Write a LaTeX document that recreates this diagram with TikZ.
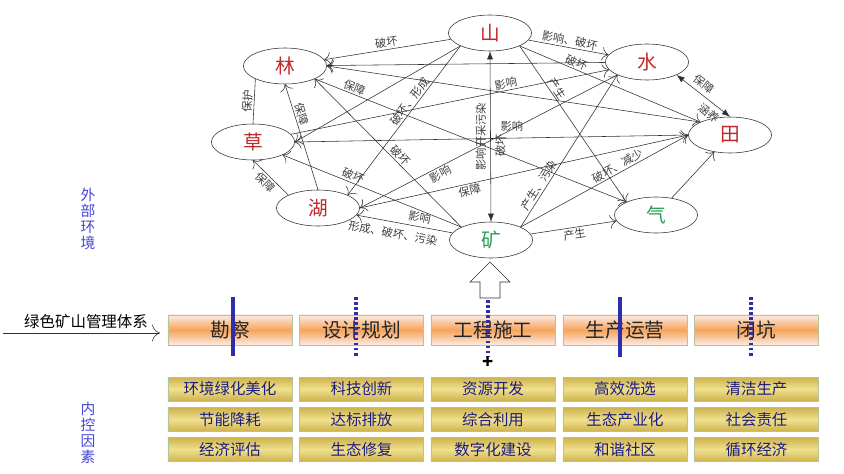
\documentclass[tikz,border=0pt]{standalone}
\usepackage{fontspec}
\setmainfont{Noto Sans CJK SC}
\usepackage{xcolor}
\usepackage{tikz}
\usetikzlibrary{arrows.meta, positioning, shapes.geometric}
\definecolor{gmred}{HTML}{C0282D}
\definecolor{gmgreen}{HTML}{27A055}
\definecolor{gmline}{HTML}{303030}
\definecolor{gmlabel}{HTML}{404040}
\definecolor{gmblue}{HTML}{2E2EA8}
\definecolor{gmside}{HTML}{4444D8}
\definecolor{gmnavy}{HTML}{1C1C80}
\definecolor{gmorange}{HTML}{F6A35C}
\definecolor{gmpink}{HTML}{FCEBE3}
\definecolor{gmgold}{HTML}{CDB24C}
\definecolor{gmgoldlight}{HTML}{F0E08E}
\definecolor{gmframe}{HTML}{B4C49A}

\begin{document}
\begin{tikzpicture}[x=0.025cm, y=-0.025cm,
  elem/.style={draw=gmline, ellipse, fill=white, minimum width=2.08cm, minimum height=0.9cm, inner sep=0pt, font=\fontsize{14pt}{14pt}\selectfont},
  lbl/.style={text=gmlabel, font=\fontsize{8pt}{8pt}\selectfont, inner sep=1pt},
  arr/.style={-{To[length=1.6mm]}, gmline, thin},
  arrs/.style={{Latex[length=2mm]}-{Latex[length=2mm]}, gmline, thin},
  stage/.style={draw=gmframe, top color=gmpink, bottom color=gmpink, middle color=gmorange, minimum width=3.1cm, minimum height=0.75cm, font=\fontsize{14pt}{14pt}\selectfont, text=black!85},
  ctrl/.style={draw=gmframe, top color=gmgold, bottom color=gmgold, middle color=gmgoldlight, minimum width=3.1cm, minimum height=0.6cm, font=\fontsize{11pt}{11pt}\selectfont, text=gmnavy},
  side/.style={text=gmside, align=center, font=\fontsize{10.5pt}{11.5pt}\selectfont},
  solidmark/.style={gmblue, line width=2.2pt},
  dotmark/.style={gmblue, line width=2.2pt, dash pattern=on 2pt off 1.6pt}
]
  \useasboundingbox (0,0) rectangle (844,474);

  \node[elem, text=gmred] (shan) at (490,33) {山};
  \node[elem, text=gmred] (shui) at (647,62) {水};
  \node[elem, text=gmred] (tian) at (730,135) {田};
  \node[elem, text=gmgreen] (qi) at (656,215) {气};
  \node[elem, text=gmgreen] (kuang) at (491,240) {矿};
  \node[elem, text=gmred] (hu) at (318,208) {湖};
  \node[elem, text=gmred] (cao) at (253,142) {草};
  \node[elem, text=gmred] (lin) at (285,66) {林};

  \draw[arr] (shan) -- node[lbl, sloped, above] {破坏} (lin);
  \draw[arr] (shan) -- node[lbl, sloped, above] {影响、破坏} (shui);
  \draw[arr] (shan.south east) -- node[lbl, sloped, above, pos=0.3] {破坏} (tian.north west);
  \draw[arr] (shan.south east) -- node[lbl, sloped, above, pos=0.3] {产生} (qi.north west);
  \draw[arr] (shan.south west) -- (cao.east);
  \draw[arr] (shan.south west) -- node[lbl, sloped, above, pos=0.4] {破坏、形成} (hu.north east);
  \draw[arrs] (kuang.north) -- node[lbl, rotate=90, anchor=south, pos=0.5, inner sep=3pt] {影响开采污染} node[lbl, rotate=90, anchor=north, pos=0.45, inner sep=3pt] {破坏} node[lbl, right=6pt, pos=0.56] {影响} (shan.south);
  \draw[arr] (shui) -- (lin);
  \draw[arrs] (shui.south east) -- node[lbl, sloped, above=2pt, pos=0.4] {保障} node[lbl, sloped, below=2pt, pos=0.72] {涵养} (tian.north);
  \draw[arr] (cao) -- node[lbl, sloped, above, pos=0.68] {影响} (shui);
  \draw[arr] (shui.south west) -- node[lbl, sloped, below, pos=0.7] {影响} (hu.east);
  \draw[arr] (hu.north) -- node[lbl, sloped, above, pos=0.7] {保障} (lin.south);
  \draw[arr] (hu.north west) -- node[lbl, sloped, below] {保障} (cao.south);
  \draw[gmline, thin] (cao.north) -- node[lbl, sloped, above] {保护} (lin.south west);
  \draw[arr] (kuang) -- node[lbl, sloped, above=2pt, pos=0.36] {影响} node[lbl, sloped, below=3pt, pos=0.6] {形成、破坏、污染} (hu);
  \draw[arr] (kuang.north west) -- node[lbl, sloped, above, pos=0.45] {破坏} (lin.south east);
  \draw[arr] (kuang.north west) -- node[lbl, sloped, above, pos=0.62] {破坏} (cao.south east);
  \draw[arr] (kuang.north east) -- node[lbl, sloped, above, pos=0.25] {产生、污染} (shui.south west);
  \draw[arr] (kuang) -- node[lbl, sloped, below] {产生} (qi);
  \draw[arr] (kuang.north east) -- node[lbl, sloped, above, pos=0.6] {破坏、减少} (tian.west);
  \draw[arr] (qi) -- (tian);
  \draw[arr] (tian.west) -- (cao.east);
  \draw[arr] (hu.east) -- node[lbl, sloped, below, pos=0.33] {保障} (tian.west);
  \draw[arr] (lin.south east) -- node[lbl, sloped, above, pos=0.12] {保障} (qi.north west);
  \draw[arr] (tian.north west) -- (lin.east);

  \draw[gmline, fill=white] (480,298) -- (480,282) -- (470,282) -- (490,262) -- (510,282) -- (500,282) -- (500,298) -- cycle;

  \node[side] (waibu) at (88,219) {外\\部\\环\\境};
  \node[side] (neikong) at (88,433) {内\\控\\因\\素};

  \node[font=\fontsize{11pt}{11pt}\selectfont] (tixi) at (86,322) {绿色矿山管理体系};
  \coordinate (tixiin) at (3,333);
  \coordinate (tixiend) at (160,333);
  \draw[-{To[length=2mm]}, gmline] (tixiin) -- (tixiend);

  \node[stage] (kancha) at (230,330) {勘察};
  \node[stage] (sheji) at (361.5,330) {设计规划};
  \node[stage] (gongcheng) at (493,330) {工程施工};
  \node[stage] (shengchan) at (625,330) {生产运营};
  \node[stage] (bikeng) at (756.5,330) {闭坑};

  \draw[solidmark] (233,297) -- (233,356);
  \draw[dotmark] (356,297) -- (356,356);
  \draw[dotmark] (488,300) -- (488,356);
  \draw[solidmark] (620,297) -- (620,357);
  \draw[dotmark] (751,297) -- (751,356);
  \node[font=\fontsize{13pt}{13pt}\selectfont\bfseries, inner sep=0pt] (plus) at (488,363) {+};

  \node[ctrl] (c11) at (230,389) {环境绿化美化};
  \node[ctrl] (c12) at (361.5,389) {科技创新};
  \node[ctrl] (c13) at (493,389) {资源开发};
  \node[ctrl] (c14) at (625,389) {高效洗选};
  \node[ctrl] (c15) at (756.5,389) {清洁生产};
  \node[ctrl] (c21) at (230,419.5) {节能降耗};
  \node[ctrl] (c22) at (361.5,419.5) {达标排放};
  \node[ctrl] (c23) at (493,419.5) {综合利用};
  \node[ctrl] (c24) at (625,419.5) {生态产业化};
  \node[ctrl] (c25) at (756.5,419.5) {社会责任};
  \node[ctrl] (c31) at (230,449.5) {经济评估};
  \node[ctrl] (c32) at (361.5,449.5) {生态修复};
  \node[ctrl] (c33) at (493,449.5) {数字化建设};
  \node[ctrl] (c34) at (625,449.5) {和谐社区};
  \node[ctrl] (c35) at (756.5,449.5) {循环经济};
\end{tikzpicture}
\end{document}
